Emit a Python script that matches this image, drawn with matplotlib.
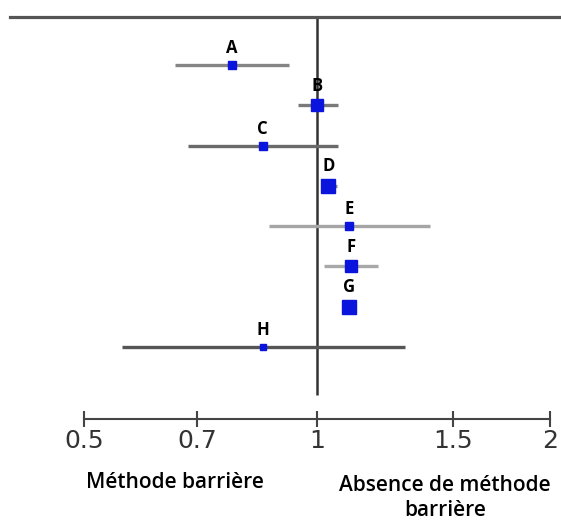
import numpy as np
import matplotlib.pyplot as plt

# Study data (odds ratio and 95% CI, log scale)
labels = ['A', 'B', 'C', 'D', 'E', 'F', 'G', 'H']
est = [0.776, 1.00, 0.851, 1.034, 1.10, 1.107, 1.10, 0.851]
lo = [0.655, 0.945, 0.682, 1.015, 0.867, 1.02, 1.085, 0.559]
hi = [0.92, 1.065, 1.065, 1.06, 1.40, 1.20, 1.115, 1.30]
msize = [5.5, 8.6, 5.5, 10, 5.3, 8.6, 9.4, 5]
line_col = ['#858585', '#7a7a7a', '#6a6a6a', '#8a8a8a', '#a5a5a5', '#a8a8a8', '#999999', '#555555']
ticks = [0.5, 0.7, 1, 1.5, 2]
tick_labels = ['0.5', '0.7', '1', '1.5', '2']

# pixel layout helpers
W, H = 561, 520
px_per_ln = 336.0
x1 = 317.0
row0, dy = 65.0, 40.29

def row_of(py):
    return (py - row0) / dy

fig = plt.figure(figsize=(W / 100, H / 100), dpi=100)
ax = fig.add_axes([0, 0, 1, 1])
ax.set_xscale('log')
ax.set_xlim(np.exp(-x1 / px_per_ln), np.exp((W - x1) / px_per_ln))
ax.set_ylim(row_of(H), row_of(0))

y = np.arange(len(labels))
for i in range(len(labels)):
    ax.plot([lo[i], hi[i]], [y[i], y[i]], color=line_col[i], lw=2.4,
            solid_capstyle='butt', zorder=2)
    ax.plot(est[i], y[i], 's', color='#0a14dc', ms=msize[i], mec='#0a14dc', zorder=3)
    ax.annotate(labels[i], (est[i], y[i]), xytext=(0, msize[i] / 2 + 3),
                textcoords='offset points', ha='center', va='bottom',
                fontsize=12, fontweight='bold', family='Open Sans')

# reference line at 1
ax.vlines(1, row_of(17), row_of(395), color='#333333', lw=1.8, zorder=1)

# top rule
ax.spines['top'].set_position(('data', row_of(17)))
ax.spines['top'].set_bounds(np.exp((10 - x1) / px_per_ln), np.exp((W - x1) / px_per_ln))
ax.spines['top'].set_color('#555555')
ax.spines['top'].set_linewidth(2.3)

# bottom axis
ax.spines['bottom'].set_position(('data', row_of(419)))
ax.spines['bottom'].set_bounds(0.5, 2)
ax.spines['bottom'].set_color('#444444')
ax.spines['bottom'].set_linewidth(1.5)
for s in ['left', 'right']:
    ax.spines[s].set_visible(False)

ax.set_xticks(ticks)
ax.set_xticklabels(tick_labels)
ax.xaxis.set_minor_locator(plt.NullLocator())
ax.tick_params(axis='x', direction='inout', length=11, width=1.5, color='#444444',
               labelsize=18, labelcolor='#333333', pad=2)
for t in ax.get_xticklabels():
    t.set_family('DejaVu Sans')
ax.set_yticks([])

fig.text(175 / W, 1 - 482 / H, 'Méthode barrière', ha='center', va='center',
         fontsize=15, fontweight='semibold', family='Open Sans')
fig.text(445 / W, 1 - 498 / H, 'Absence de méthode\nbarrière', ha='center', va='center',
         fontsize=15, fontweight='semibold', family='Open Sans', linespacing=1.3)

fig.savefig('out.png', dpi=100)
